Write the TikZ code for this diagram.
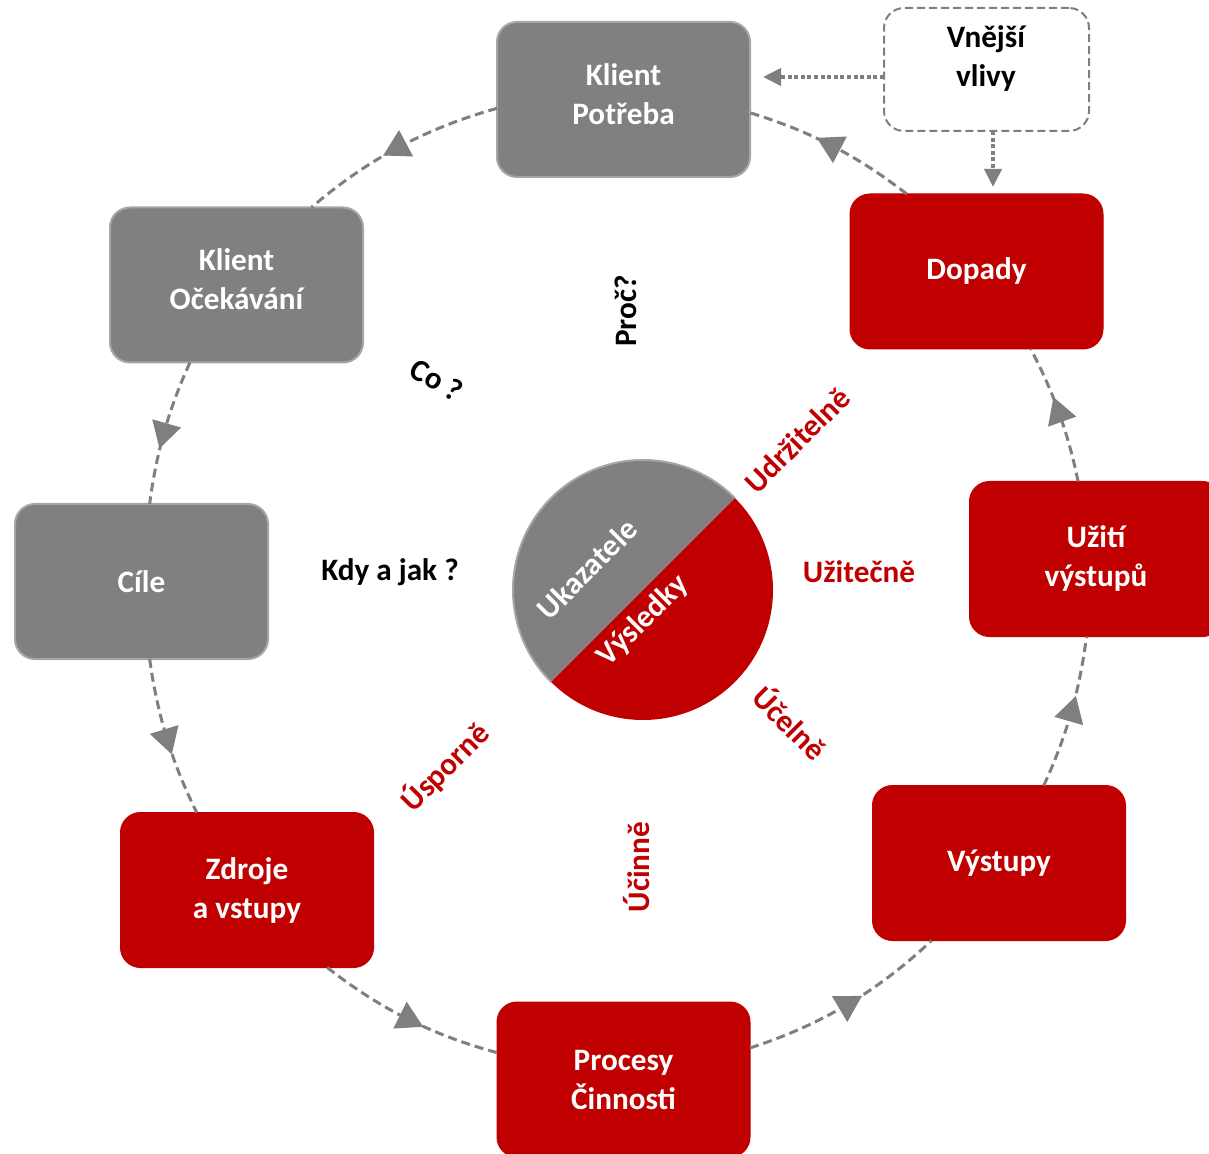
\documentclass[tikz,border=0pt]{standalone}
\usepackage{fontspec}
\setmainfont{Carlito}
\usetikzlibrary{arrows.meta,decorations.markings}
\definecolor{boxgray}{HTML}{808080}
\definecolor{bordergray}{HTML}{A6A6A6}
\definecolor{boxred}{HTML}{C00000}
\definecolor{linegray}{HTML}{7F7F7F}
\begin{document}
\begin{tikzpicture}[x=0.5pt,y=0.5pt,
  box/.style={rectangle, rounded corners=10pt, minimum width=126.5pt, minimum height=77.5pt,
    outer sep=0pt, inner sep=0pt, align=center, text=white,
    font=\fontsize{15.6}{19.5}\selectfont\bfseries},
  graybox/.style={box, fill=boxgray, draw=bordergray, line width=1pt},
  redbox/.style={box, fill=boxred, draw=boxred, line width=0.5pt},
  flow/.style={draw=linegray, line width=1.5pt, dash pattern=on 4.5pt off 2.5pt,
    postaction={decorate},
    decoration={markings, mark=at position 0.5 with {\fill[linegray] (8.7pt,0) -- (-4.3pt,7.5pt) -- (-4.3pt,-7.5pt) -- cycle;}}},
  dotflow/.style={draw=linegray, line width=2pt, dash pattern=on 2pt off 1.3pt,
    -{Triangle[length=9pt,width=8.5pt]}},
  lbl/.style={font=\fontsize{15.6}{19.5}\selectfont\bfseries, inner sep=0pt},
  redlbl/.style={lbl, text=boxred},
  vlbl/.style={lbl, text=white}
]
\useasboundingbox (0,0) rectangle (1209,-1154);

% boxes
\node[graybox] (pot) at (623.5,-99.5) {Klient\\Potřeba\rule[-5pt]{0pt}{0pt}};
\node[graybox] (oce) at (236.5,-285) {Klient\\Očekávání\rule[-6pt]{0pt}{0pt}};
\node[graybox] (cil) at (141.5,-581.5) {Cíle};
\node[redbox] (zdr) at (247,-890) {Zdroje\\a vstupy};
\node[redbox] (pro) at (623.5,-1079.5) {Procesy\\Činnosti};
\node[redbox] (vys) at (999,-863) {Výstupy};
\node[redbox] (uzi) at (1096,-559) {Užití\\výstupů};
\node[redbox] (dop) at (976.5,-271.5) {Dopady};

% external influences
\node[rectangle, rounded corners=10pt, minimum width=102.5pt, minimum height=61.5pt,
  draw=linegray, line width=1pt, dash pattern=on 4pt off 2pt, fill=white, outer sep=0pt] (vne) at (986.5,-69.5) {};
\node[lbl, align=center, text=black] (vnet) at (986,-59) {Vnější\\vlivy};
\draw[dotflow, shorten >=6.5pt] (vne.west |- 0,-77) -- (pot.east |- 0,-77);
\draw[dotflow, shorten >=3.5pt] (vne.south -| 993,0) -- (dop.north -| 993,0);

% cycle connectors
\draw[flow] (pot.184) to[bend right=12.5, looseness=0.9] (oce.46);
\draw[flow] (oce.239) to[bend right=8.5, looseness=0.9] (cil.84);
\draw[flow] (cil.276) to[bend right=9.2, looseness=0.9] (zdr.123);
\draw[flow] (zdr.316) to[bend right=11.5, looseness=0.9] (pro.168);
\draw[flow] (pro.14) to[bend right=12.7, looseness=0.9] (vys.229);
\draw[flow] (vys.60) to[bend right=8.8, looseness=0.9] (uzi.263);
\draw[flow] (uzi.103) to[bend right=8, looseness=0.9] (dop.305);
\draw[flow] (dop.132) to[bend right=10.5, looseness=0.9] (pot.354);

% central circle
\node[circle, minimum size=130pt, inner sep=0pt, outer sep=0pt] (cc) at (643,-590) {};
\fill[boxgray] (cc.center) ++(45:130) arc[start angle=45, end angle=225, radius=130] -- cycle;
\draw[bordergray, line width=1pt] (cc.center) ++(45:130) arc[start angle=45, end angle=225, radius=130];
\fill[boxred] (cc.center) ++(225:130) arc[start angle=225, end angle=405, radius=130] -- cycle;
\node[vlbl, rotate=45] (uka) at (587,-569) {Ukazatele};
\node[vlbl, rotate=45] (vysl) at (643,-621) {Výsledky};

% labels
\node[lbl, rotate=90] (proc) at (626,-311) {Proč?};
\node[lbl, rotate=-30] (co) at (437,-380) {Co ?};
\node[lbl] (kdy) at (390,-572) {Kdy a jak ?};
\node[redlbl, rotate=45] (udr) at (797,-440) {Udržitelně};
\node[redlbl] (uzit) at (859,-572) {Užitečně};
\node[redlbl, rotate=-45] (ucel) at (791,-722) {Účelně};
\node[redlbl, rotate=90] (ucin) at (637,-867) {Účinně};
\node[redlbl, rotate=45] (uspo) at (445,-767) {Úsporně};
\end{tikzpicture}
\end{document}
